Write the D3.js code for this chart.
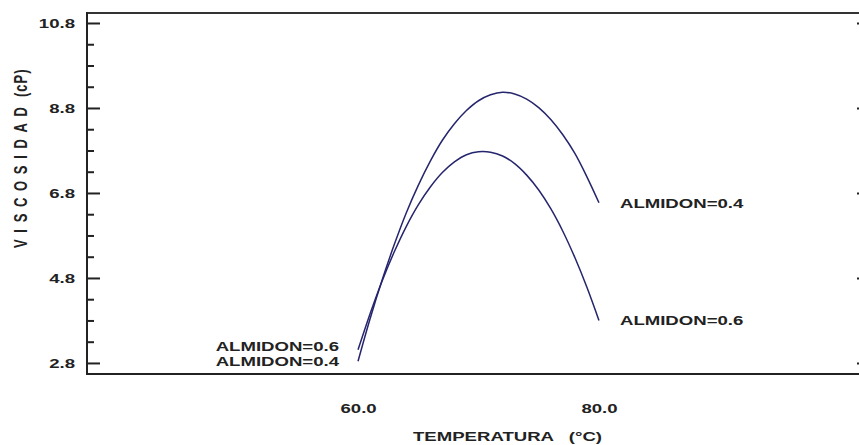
<!DOCTYPE html>
<html>
<head>
<meta charset="utf-8">
<script src="https://cdn.jsdelivr.net/npm/d3@7"></script>
<style>
  html, body { margin: 0; padding: 0; background: #fff; }
  svg { display: block; }
  text { font-family: "Liberation Sans", Arial, sans-serif; font-weight: bold; fill: #222; }
</style>
</head>
<body>
<svg id="chart" width="859" height="445"></svg>
<script>
// ---- data ----
const temperatures = [60,61,62,63,64,65,66,67,68,69,70,71,72,73,74,75,76,77,78,79,80];
const almidon04 = [2.84,3.84,4.75,5.58,6.33,6.98,7.55,8.04,8.43,8.74,8.97,9.11,9.17,9.13,9.01,8.81,8.53,8.17,7.73,7.18,6.57];
const almidon06 = [3.11,3.96,4.73,5.41,6.01,6.52,6.94,7.28,7.53,7.70,7.77,7.76,7.67,7.49,7.22,6.87,6.43,5.90,5.28,4.58,3.80];
const seriesNames = ["ALMIDON=0.4", "ALMIDON=0.6"];
const xTickValues = [60.0, 80.0];
const yTickValues = [2.8, 4.8, 6.8, 8.8, 10.8];
const xTitle = "TEMPERATURA   (°C)";
const yTitleMain = "VISCOSIDAD";
const yTitleUnit = "(cP)";

(function () {
// ---- layout ----
const svg = d3.select("#chart");
const pL = 87, pR = 870, pT = 13, pB = 374;
const stretch = 1.43;
const fs = 13;

const x = d3.scaleLinear().domain([37.5, 102.5]).range([pL, pR]);
const y = d3.scaleLinear().domain([2.54, 11.035]).range([pB, pT]);

// minor ticks every 0.5
const yMinor = d3.range(3.3, 10.8, 0.5).filter(v => !yTickValues.some(t => Math.abs(t - v) < 1e-6));

// left axis major
const gL = svg.append("g").attr("transform", `translate(${pL},0)`);
gL.call(d3.axisLeft(y).tickValues(yTickValues).tickSizeInner(-13).tickSizeOuter(0).tickPadding(12).tickFormat(d3.format(".1f")));
gL.attr("font-family", null).attr("font-size", null);
gL.select(".domain").remove();
gL.selectAll(".tick line").attr("stroke", "#222").attr("stroke-width", 2);
gL.selectAll(".tick text")
  .attr("x", null).attr("dy", "0.35em")
  .attr("transform", `translate(-12,0) scale(${stretch},1)`)
  .style("font-size", fs + "px").attr("fill", "#222");
// left minor
const gLm = svg.append("g").attr("transform", `translate(${pL},0)`);
gLm.call(d3.axisLeft(y).tickValues(yMinor).tickSizeInner(-7).tickSizeOuter(0).tickFormat(""));
gLm.select(".domain").remove();
gLm.selectAll(".tick line").attr("stroke", "#222").attr("stroke-width", 2);

// right axis (mostly off-screen)
const gR = svg.append("g").attr("transform", `translate(${pR},0)`);
gR.call(d3.axisRight(y).tickValues(yTickValues).tickSizeInner(-13).tickSizeOuter(0).tickFormat(""));
gR.select(".domain").remove();
gR.selectAll(".tick line").attr("stroke", "#222").attr("stroke-width", 2);

// bottom axis labels
const gB = svg.append("g").attr("transform", `translate(0,${pB})`);
gB.call(d3.axisBottom(x).tickValues(xTickValues).tickSize(0).tickPadding(0).tickFormat(d3.format(".1f")));
gB.attr("font-family", null).attr("font-size", null);
gB.select(".domain").remove();
gB.selectAll(".tick text")
  .attr("y", null).attr("dy", null)
  .attr("transform", `translate(0,39) scale(${stretch},1)`)
  .style("font-size", fs + "px").attr("fill", "#222");

// frame
svg.append("line").attr("x1", pL).attr("x2", pR).attr("y1", pT).attr("y2", pT).attr("stroke", "#333").attr("stroke-width", 2);
svg.append("line").attr("x1", pL).attr("x2", pR).attr("y1", pB).attr("y2", pB).attr("stroke", "#222").attr("stroke-width", 2);
svg.append("line").attr("x1", pL).attr("x2", pL).attr("y1", pT - 1).attr("y2", pB + 1).attr("stroke", "#222").attr("stroke-width", 2);

// curves
const line = d3.line().x((d, i) => x(temperatures[i])).y(d => y(d)).curve(d3.curveCatmullRom);
[almidon04, almidon06].forEach(s => {
  svg.append("path").attr("d", line(s)).attr("fill", "none").attr("stroke", "#25256e").attr("stroke-width", 1.5);
});

// curve labels
function label(px, py, txt, anchor) {
  svg.append("text").attr("transform", `translate(${px},${py}) scale(${stretch},1)`)
    .attr("text-anchor", anchor).style("font-size", fs + "px").text(txt);
}
const t0 = temperatures[0], tN = temperatures[temperatures.length - 1];
label(x(tN) + 21, y(almidon04[almidon04.length - 1]) + 5, seriesNames[0], "start");
label(x(tN) + 21, y(almidon06[almidon06.length - 1]) + 5, seriesNames[1], "start");
label(x(t0) - 19, y(almidon06[0]) + 1, seriesNames[1], "end");
label(x(t0) - 19, y(almidon04[0]) + 5, seriesNames[0], "end");

// axis titles
svg.append("text").attr("transform", `translate(${(412 + 603) / 2},441) scale(${stretch},1)`)
  .attr("text-anchor", "middle").style("font-size", fs + "px").style("white-space", "pre").text(xTitle);
svg.append("text").attr("transform", `translate(27,248) rotate(-90) scale(1,${stretch})`)
  .attr("text-anchor", "start").style("font-size", fs + "px")
  .attr("textLength", 141).attr("lengthAdjust", "spacing").text(yTitleMain);
svg.append("text").attr("transform", `translate(27,97) rotate(-90) scale(1,${stretch})`)
  .attr("text-anchor", "start").style("font-size", fs + "px").style("letter-spacing", "1px").text(yTitleUnit);
})();
</script>
</body>
</html>
